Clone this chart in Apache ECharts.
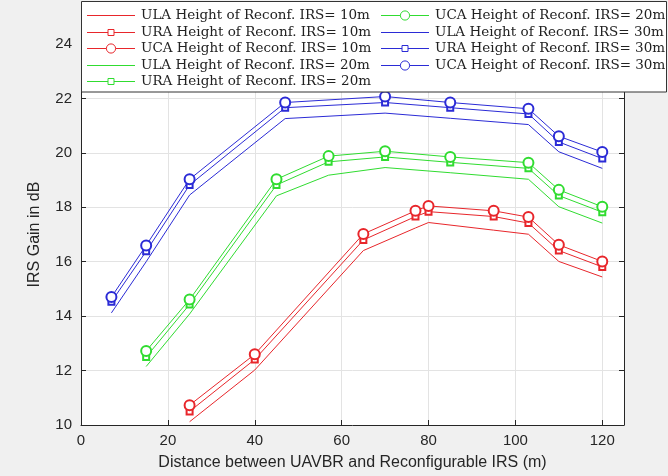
<!DOCTYPE html>
<html>
<head>
<meta charset="utf-8">
<script src="https://cdn.jsdelivr.net/npm/echarts@6/dist/echarts.min.js"></script>
<style>
html,body{margin:0;padding:0;background:#f0f0f0;}
#c{width:668px;height:476px;}
</style>
</head>
<body>
<div id="c"></div>
<script>
// ---- data ----
const xRed   = [25, 40, 65, 77, 80, 95, 103, 110, 120];
const redULA = [10.12, 12.02, 16.41, 17.24, 17.44, 17.16, 17.01, 16.01, 15.44];
const redURA = [10.50, 12.41, 16.80, 17.66, 17.84, 17.66, 17.42, 16.41, 15.81];
const redUCA = [10.73, 12.60, 17.02, 17.87, 18.05, 17.87, 17.64, 16.62, 16.01];

const xGreen   = [15, 25, 45, 57, 70, 85, 103, 110, 120];
const greenULA = [12.15, 14.08, 18.42, 19.18, 19.46, 19.27, 19.03, 18.02, 17.42];
const greenURA = [12.50, 14.43, 18.82, 19.67, 19.85, 19.65, 19.43, 18.43, 17.82];
const greenUCA = [12.72, 14.61, 19.03, 19.88, 20.06, 19.85, 19.64, 18.64, 18.02];

const xBlue   = [7, 15, 25, 47, 70, 85, 103, 110, 120];
const blueULA = [14.12, 16.00, 18.45, 21.26, 21.46, 21.27, 21.04, 20.04, 19.43];
const blueURA = [14.53, 16.38, 18.82, 21.66, 21.85, 21.66, 21.43, 20.40, 19.79];
const blueUCA = [14.70, 16.60, 19.03, 21.85, 22.07, 21.85, 21.62, 20.61, 20.03];

const names = [
  'ULA Height of Reconf. IRS= 10m',
  'URA Height of Reconf. IRS= 10m',
  'UCA Height of Reconf. IRS= 10m',
  'ULA Height of Reconf. IRS= 20m',
  'URA Height of Reconf. IRS= 20m',
  'UCA Height of Reconf. IRS= 20m',
  'ULA Height of Reconf. IRS= 30m',
  'URA Height of Reconf. IRS= 30m',
  'UCA Height of Reconf. IRS= 30m'
];
const kinds = ['ULA','URA','UCA','ULA','URA','UCA','ULA','URA','UCA'];
const xTicks = [0, 20, 40, 60, 80, 100, 120];
const yTicks = [10, 12, 14, 16, 18, 20, 22, 24];

const RED = '#e8262b', GREEN = '#30dc30', BLUE = '#2b2bd6';
const colors = [RED, RED, RED, GREEN, GREEN, GREEN, BLUE, BLUE, BLUE];

function pairs(xs, ys){ return xs.map((x,i)=>[x, ys[i]]); }
function mk(i, xs, ys){
  const color = colors[i], kind = kinds[i];
  const s = {
    name: names[i], type: 'line', data: pairs(xs, ys),
    lineStyle: {color: color, width: 1},
    itemStyle: {color: color, borderColor: color, borderWidth: 1},
    animation: false, z: 2
  };
  if (kind === 'ULA') { s.symbol = 'none'; }
  else if (kind === 'URA') { s.symbol = 'emptyRect'; s.symbolSize = 6; }
  else { s.symbol = 'emptyCircle'; s.symbolSize = 10; }
  return s;
}
const series = [
  mk(0, xRed, redULA), mk(1, xRed, redURA), mk(2, xRed, redUCA),
  mk(3, xGreen, greenULA), mk(4, xGreen, greenURA), mk(5, xGreen, greenUCA),
  mk(6, xBlue, blueULA), mk(7, xBlue, blueURA), mk(8, xBlue, blueUCA)
];

// ---- legend (MATLAB style, two columns), drawn as graphic elements ----
const legendEls = [{
  type: 'rect', silent: true, z: 50,
  shape: {x: 81.5, y: 1.5, width: 585, height: 90.5},
  style: {fill: '#ffffff', stroke: '#333333', lineWidth: 1}
}];
for (let i = 0; i < names.length; i++) {
  const col = i < 5 ? 0 : 1;
  const row = i < 5 ? i : i - 5;
  const x0 = col === 0 ? 87 : 381;
  const x1 = x0 + 48;
  const y = Math.round(15 + row * 16.6) + 0.5;
  const cx = (x0 + x1) / 2;
  const c = colors[i];
  legendEls.push({type: 'polyline', silent: true, z: 51,
    shape: {points: [[x0, y], [x1, y]]},
    style: {stroke: c, lineWidth: 1, fill: null}});
  if (kinds[i] === 'URA') {
    legendEls.push({type: 'rect', silent: true, z: 52,
      shape: {x: cx - 3, y: y - 3, width: 6, height: 6},
      style: {fill: '#ffffff', stroke: c, lineWidth: 1}});
  } else if (kinds[i] === 'UCA') {
    legendEls.push({type: 'circle', silent: true, z: 52,
      shape: {cx: cx, cy: y, r: 4.6},
      style: {fill: '#ffffff', stroke: c, lineWidth: 1}});
  }
  legendEls.push({type: 'text', silent: true, z: 53,
    style: {text: names[i], x: x1 + 6, y: y, verticalAlign: 'middle', align: 'left',
      fontFamily: 'DejaVu Serif', fontSize: 13.5, fill: '#222222'}});
}

const axisCol = '#262626';
const chart = echarts.init(document.getElementById('c'), null, {renderer: 'canvas'});
chart.setOption({
  backgroundColor: '#f0f0f0',
  animation: false,
  grid: {left: 81, top: 44, right: 44, bottom: 50, show: true, backgroundColor: '#ffffff', borderWidth: 0},
  xAxis: [{
    type: 'value', min: 0, max: 125, interval: 20,
    name: 'Distance between UAVBR and Reconfigurable IRS (m)',
    nameLocation: 'middle', nameGap: 30,
    nameTextStyle: {fontFamily: 'Liberation Sans', fontSize: 16, color: axisCol},
    axisLine: {show: true, lineStyle: {color: axisCol, width: 1}},
    axisTick: {show: true, inside: true, length: 5, lineStyle: {color: axisCol}},
    axisLabel: {fontFamily: 'Liberation Sans', fontSize: 15, color: axisCol, margin: 8,
      formatter: v => xTicks.indexOf(v) >= 0 ? String(v) : ''},
    splitLine: {show: true, lineStyle: {color: '#e3e3e3', width: 1}}
  }],
  yAxis: [{
    type: 'value', min: 10, max: 24, interval: 2,
    name: 'IRS Gain in dB', nameLocation: 'middle', nameGap: 38,
    nameTextStyle: {fontFamily: 'Liberation Sans', fontSize: 16, color: axisCol},
    axisLine: {show: true, lineStyle: {color: axisCol, width: 1}},
    axisTick: {show: true, inside: true, length: 5, lineStyle: {color: axisCol}},
    axisLabel: {fontFamily: 'Liberation Sans', fontSize: 15, color: axisCol, margin: 9,
      formatter: v => yTicks.indexOf(v) >= 0 ? String(v) : ''},
    splitLine: {show: true, lineStyle: {color: '#e3e3e3', width: 1}}
  }, {
    type: 'value', min: 10, max: 24, interval: 2, position: 'right',
    axisLine: {show: true, onZero: false, lineStyle: {color: axisCol, width: 1}},
    axisTick: {show: true, inside: true, length: 5, lineStyle: {color: axisCol}},
    axisLabel: {show: false}, splitLine: {show: false}
  }],
  graphic: legendEls,
  series: series
});
</script>
</body>
</html>
